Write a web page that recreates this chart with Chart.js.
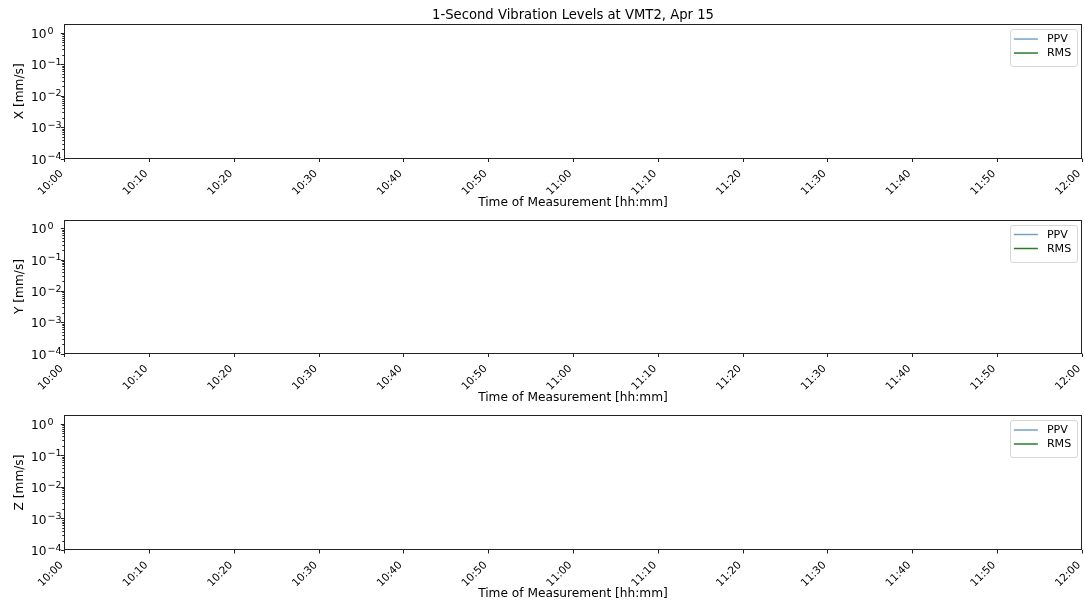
<!DOCTYPE html>
<html>
<head>
<meta charset="utf-8">
<title>1-Second Vibration Levels at VMT2, Apr 15</title>
<script src="https://cdn.jsdelivr.net/npm/chart.js@4.4.1/dist/chart.umd.min.js"></script>
<style>
  body { margin: 0; background: #fff; }
  #wrap { position: relative; width: 1085px; height: 605px; overflow: hidden; }
  canvas { position: absolute; left: 0; }
</style>
</head>
<body>
<div id="wrap">
  <canvas id="chartX" width="1085" height="212" style="top:0"></canvas>
  <canvas id="chartY" width="1085" height="212" style="top:195px"></canvas>
  <canvas id="chartZ" width="1085" height="212" style="top:391px"></canvas>
</div>
<script>
// данные
const chartTitle = '1-Second Vibration Levels at VMT2, Apr 15';
const xTitle = 'Time of Measurement [hh:mm]';
const axisNames = ['X', 'Y', 'Z'];
const seriesNames = ['PPV', 'RMS'];
const seriesColors = ['rgba(70, 130, 180, 0.75)', '#2b7a2b'];

// минуты от 10:00
const tickMinutes = [0, 10, 20, 30, 40, 50, 60, 70, 80, 90, 100, 110, 120];
const tickLabels = ['10:00', '10:10', '10:20', '10:30', '10:40', '10:50', '11:00',
  '11:10', '11:20', '11:30', '11:40', '11:50', '12:00'];

const yMin = 1e-4;
const yMax = 1.9;
const yMajor = [1e-4, 1e-3, 1e-2, 1e-1, 1];
const yExponents = ['\u22124', '\u22123', '\u22122', '\u22121', '0'];
const yMinorMult = [2, 3, 4, 5, 6, 7, 8, 9];

// ряды пустые — на картинке линий нет
const ppvX = [];
const rmsX = [];
const ppvY = [];
const rmsY = [];
const ppvZ = [];
const rmsZ = [];

const FONT = 'DejaVu Sans';
const FS = 12.2;      // подписи осей
const FS_TICK = 10.6; // время
const FS_LEG = 11.1;
const INK = '#000';

// тики по y: мажорные + минорные
function yTickList() {
  const list = [];
  yMajor.forEach(m => {
    list.push({ value: m, major: true });
    yMinorMult.forEach(k => {
      const v = m * k;
      if (v <= yMax) list.push({ value: v, major: false });
    });
  });
  return list.sort((a, b) => a.value - b.value);
}

// рамка, засечки и подписи тиков
const axisDecor = {
  id: 'axisDecor',
  afterDraw(chart) {
    const { ctx, chartArea: a, scales: { x, y } } = chart;
    ctx.save();
    ctx.strokeStyle = '#222';
    ctx.lineWidth = 1;
    ctx.beginPath();
    x.ticks.forEach(t => {
      const px = Math.round(x.getPixelForValue(t.value)) + 0.5;
      ctx.moveTo(px, a.bottom);
      ctx.lineTo(px, a.bottom + 3.5);
    });
    y.ticks.forEach(t => {
      const py = Math.round(y.getPixelForValue(t.value)) + 0.5;
      const len = t.major ? 3.5 : 2;
      ctx.moveTo(a.left - len, py);
      ctx.lineTo(a.left, py);
    });
    ctx.stroke();
    const l = Math.round(a.left) + 0.5;
    const tp = Math.round(a.top) + 0.5;
    const r = Math.round(a.right) - 0.5;
    const b = Math.round(a.bottom) - 0.5;
    ctx.strokeRect(l, tp, r - l, b - tp);

    ctx.fillStyle = INK;
    // подписи времени под 45°
    ctx.font = `${FS_TICK}px "${FONT}"`;
    ctx.textAlign = 'right';
    ctx.textBaseline = 'alphabetic';
    tickMinutes.forEach((m, i) => {
      const px = x.getPixelForValue(m);
      ctx.save();
      ctx.translate(px - 0.8, a.bottom + 15.5);
      ctx.rotate(-Math.PI / 4);
      ctx.fillText(tickLabels[i], 0, 0);
      ctx.restore();
    });
    // 10 в степени
    ctx.textAlign = 'left';
    yMajor.forEach((v, i) => {
      const py = y.getPixelForValue(v);
      ctx.font = `${FS}px "${FONT}"`;
      ctx.fillText('10', 31, py + 5.2);
      const w = ctx.measureText('10').width;
      ctx.font = `9.5px "${FONT}"`;
      ctx.fillText(yExponents[i], 31 + w + 1, py + 0.8);
    });
    ctx.restore();
  }
};

// легенда внутри области
const innerLegend = {
  id: 'innerLegend',
  afterDraw(chart) {
    const { ctx, chartArea: a } = chart;
    const sets = chart.data.datasets;
    ctx.save();
    ctx.font = `${FS_LEG}px "${FONT}"`;
    const textW = Math.max(...sets.map(d => ctx.measureText(d.label).width));
    const w = 4.3 + 24 + 9 + textW + 5;
    const h = 36.5;
    const right = a.right - 5.5;
    const left = right - w;
    const top = a.top + 5;
    ctx.fillStyle = 'rgba(255,255,255,0.8)';
    ctx.strokeStyle = 'rgba(204,204,204,0.8)';
    ctx.lineWidth = 1;
    ctx.beginPath();
    ctx.roundRect(Math.round(left) + 0.5, Math.round(top) + 0.5, Math.round(w), Math.round(h), 2.5);
    ctx.fill();
    ctx.stroke();
    sets.forEach((d, i) => {
      const cy = top + 10 + i * 14;
      ctx.strokeStyle = d.borderColor;
      ctx.lineWidth = 1.5;
      ctx.beginPath();
      ctx.moveTo(left + 4.3, cy);
      ctx.lineTo(left + 28.3, cy);
      ctx.stroke();
      ctx.fillStyle = INK;
      ctx.textBaseline = 'middle';
      ctx.textAlign = 'left';
      ctx.fillText(d.label, left + 37.3, cy + 0.5);
    });
    ctx.restore();
  }
};

function makeChart(id, axisName, ppv, rms, withTitle, padTop, axisH) {
  new Chart(document.getElementById(id), {
    type: 'line',
    data: {
      datasets: [
        { label: seriesNames[0], data: ppv, borderColor: seriesColors[0], borderWidth: 1.5, pointRadius: 0 },
        { label: seriesNames[1], data: rms, borderColor: seriesColors[1], borderWidth: 1.5, pointRadius: 0 },
      ],
    },
    options: {
      responsive: false,
      animation: false,
      layout: { padding: { top: padTop, right: 3.3, left: 0, bottom: 0 } },
      plugins: {
        legend: { display: false },
        tooltip: { enabled: false },
        title: {
          display: withTitle,
          fullSize: false,
          text: chartTitle,
          color: INK,
          font: { family: FONT, size: 13.2, weight: 'normal', lineHeight: 1.2 },
          padding: { top: 8, bottom: 0.2 },
        },
      },
      scales: {
        x: {
          type: 'linear',
          min: tickMinutes[0],
          max: tickMinutes[tickMinutes.length - 1],
          afterBuildTicks: s => { s.ticks = tickMinutes.map(v => ({ value: v })); },
          afterFit: s => { s.height = axisH; s.paddingLeft = 0; s.paddingRight = 0; },
          grid: { display: false },
          border: { display: false },
          ticks: {
            autoSkip: false,
            maxRotation: 0,
            callback: () => '',
          },
          title: {
            display: true,
            text: xTitle,
            color: INK,
            font: { family: FONT, size: FS, lineHeight: 1.2 },
            padding: { top: 0, bottom: 1.5 },
          },
        },
        y: {
          type: 'logarithmic',
          min: yMin,
          max: yMax,
          afterBuildTicks: s => { s.ticks = yTickList(); },
          afterFit: s => { s.width = 64.3; s.paddingTop = 0; s.paddingBottom = 0; },
          grid: { display: false },
          border: { display: false },
          ticks: {
            autoSkip: false,
            maxRotation: 0,
            callback: () => '',
          },
          title: {
            display: true,
            text: `${axisName} [mm/s]`,
            color: INK,
            font: { family: FONT, size: FS, lineHeight: 1.2 },
            padding: { top: 13, bottom: 0 },
          },
        },
      },
    },
    plugins: [axisDecor, innerLegend],
  });
}

makeChart('chartX', axisNames[0], ppvX, rmsX, true, 0, 53.5);
makeChart('chartY', axisNames[1], ppvY, rmsY, false, 24.5, 53.5);
makeChart('chartZ', axisNames[2], ppvZ, rmsZ, false, 24, 53);
</script>
</body>
</html>
